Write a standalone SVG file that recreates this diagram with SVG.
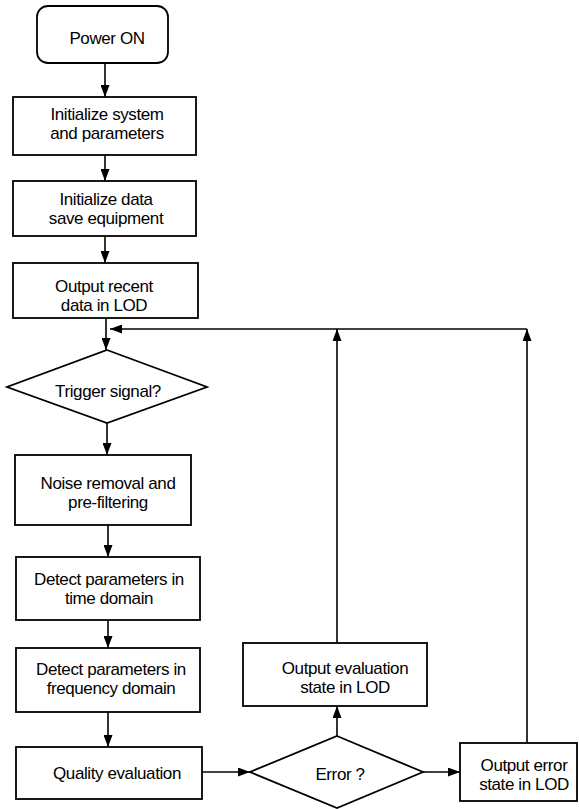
<svg xmlns="http://www.w3.org/2000/svg" width="579" height="809" viewBox="0 0 579 809">
<defs>
<marker id="ah" markerUnits="userSpaceOnUse" markerWidth="12" markerHeight="9" refX="12" refY="4.5" orient="auto">
<path d="M0,0 L12,4.5 L0,9 z" fill="#000"/>
</marker>
<style>
.n{fill:#fff;stroke:#000;stroke-width:1.8}
.t{font-family:"Liberation Sans",Arial,sans-serif;font-size:17px;letter-spacing:-0.4px;fill:#000;text-anchor:middle}
.c{fill:none;stroke:#000;stroke-width:1.6}
.a{marker-end:url(#ah)}
</style>
</defs>
<rect width="579" height="809" fill="#fff"/>
<g id="connectors">
<line class="c a" x1="105" y1="63" x2="105" y2="97"/>
<line class="c a" x1="105" y1="155" x2="105" y2="181"/>
<line class="c a" x1="105" y1="236" x2="105" y2="263"/>
<line class="c a" x1="106" y1="318" x2="106" y2="350"/>
<line class="c a" x1="107" y1="423" x2="107" y2="455"/>
<line class="c a" x1="108" y1="525" x2="108" y2="557"/>
<line class="c a" x1="108" y1="620" x2="108" y2="648"/>
<line class="c a" x1="108" y1="712" x2="108" y2="747"/>
<line class="c a" x1="202" y1="772" x2="250" y2="772"/>
<line class="c a" x1="337" y1="736" x2="337" y2="706"/>
<line class="c a" x1="423" y1="772" x2="460" y2="772"/>
<line class="c a" x1="337" y1="643" x2="337" y2="329"/>
<line class="c a" x1="527" y1="743" x2="527" y2="329"/>
<line class="c a" x1="527" y1="329" x2="110" y2="329"/>
</g>
<g id="power-on">
<rect class="n" x="37" y="6" width="131" height="57" rx="11"/>
<text class="t" x="107" y="44">Power ON</text>
</g>
<g id="init-system">
<rect class="n" x="13" y="97" width="183" height="58"/>
<text class="t" x="107" y="120">Initialize system</text>
<text class="t" x="107" y="139">and parameters</text>
</g>
<g id="init-data">
<rect class="n" x="13" y="181" width="183" height="55"/>
<text class="t" x="106" y="205">Initialize data</text>
<text class="t" x="106" y="224">save equipment</text>
</g>
<g id="output-recent">
<rect class="n" x="13" y="263" width="185" height="55"/>
<text class="t" x="104" y="292">Output recent</text>
<text class="t" x="104" y="311">data in LOD</text>
</g>
<g id="trigger">
<polygon class="n" points="107,350 207,387 107,423 7,387"/>
<text class="t" x="108" y="397">Trigger signal?</text>
</g>
<g id="noise">
<rect class="n" x="15" y="455" width="176" height="70"/>
<text class="t" x="108" y="489">Noise removal and</text>
<text class="t" x="108" y="508">pre-filtering</text>
</g>
<g id="detect-time">
<rect class="n" x="16" y="557" width="184" height="63"/>
<text class="t" x="109" y="585">Detect parameters in</text>
<text class="t" x="109" y="604">time domain</text>
</g>
<g id="detect-freq">
<rect class="n" x="16" y="648" width="184" height="64"/>
<text class="t" x="111" y="675">Detect parameters in</text>
<text class="t" x="111" y="694">frequency  domain</text>
</g>
<g id="quality">
<rect class="n" x="16" y="747" width="186" height="52"/>
<text class="t" x="117" y="779">Quality evaluation</text>
</g>
<g id="error">
<polygon class="n" points="337,736 423,772 337,808 250,772"/>
<text class="t" x="340" y="780">Error ?</text>
</g>
<g id="output-eval">
<rect class="n" x="243" y="643" width="184" height="63"/>
<text class="t" x="345" y="674">Output evaluation</text>
<text class="t" x="345" y="693">state in LOD</text>
</g>
<g id="output-error">
<rect class="n" x="460" y="743" width="117" height="58"/>
<text class="t" x="524" y="771">Output error</text>
<text class="t" x="524" y="790">state in LOD</text>
</g>
</svg>
